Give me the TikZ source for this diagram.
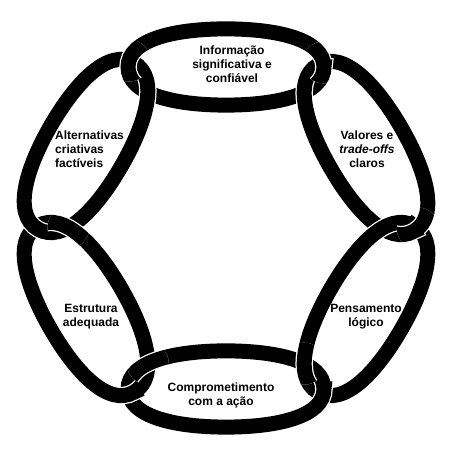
\documentclass[tikz,border=0pt]{standalone}
\usepackage{fontspec}
\setmainfont{Liberation Sans}
\usetikzlibrary{intersections}
\newcommand\chainlink{(97,0) .. controls (97,27) and (50,37) .. (0,37) .. controls (-50,37) and (-97,27) .. (-97,0) .. controls (-97,-27) and (-50,-37) .. (0,-37) .. controls (50,-37) and (97,-27) .. cycle}
\begin{document}
\begin{tikzpicture}[x=1pt,y=1pt,
  lk/.style={line width=15pt, black},
  lkw/.style={line width=17.5pt, white},
  lbl/.style={font=\fontsize{12}{14}\selectfont\bfseries, align=center, inner sep=0pt, text=black},
  pA/.style={shift={(226,382)}, rotate=0, xscale=1.01, yscale=1.03},
  pB/.style={shift={(366,301)}, rotate=-60, xscale=0.99, yscale=1.1},
  pC/.style={shift={(366,140)}, rotate=60, xscale=0.99, yscale=1.1},
  pD/.style={shift={(226,60)}, rotate=0, xscale=1.01, yscale=1.03},
  pE/.style={shift={(86,140)}, rotate=-60, xscale=0.99, yscale=1.1},
  pF/.style={shift={(86,303)}, rotate=60, xscale=0.99, yscale=1.1}]
\useasboundingbox (0,0) rectangle (451,449);
\fill[white] (0,0) rectangle (451,449);
% paths for intersections
\path[name path=A, pA] \chainlink;
\path[name path=B, pB] \chainlink;
\path[name path=C, pC] \chainlink;
\path[name path=D, pD] \chainlink;
\path[name path=E, pE] \chainlink;
\path[name path=F, pF] \chainlink;
\path[name intersections={of=A and B, by={ab1,ab2}}];
\path[name intersections={of=B and C, by={bc1,bc2}}];
\path[name intersections={of=C and D, by={cd1,cd2}}];
\path[name intersections={of=D and E, by={de1,de2}}];
\path[name intersections={of=E and F, by={ef1,ef2}}];
\path[name intersections={of=F and A, by={fa1,fa2}}];
% links
\foreach \s in {pA,pB,pC,pD,pE,pF}{
  \draw[lkw, \s] \chainlink;
  \draw[lk, \s] \chainlink;
}
% over/under fixes
\begin{scope}\clip (ab1) circle (21); \draw[lkw,pA] \chainlink; \draw[lk,pA] \chainlink; \end{scope}
\begin{scope}\clip (bc1) circle (21); \draw[lkw,pB] \chainlink; \draw[lk,pB] \chainlink; \end{scope}
\begin{scope}\clip (cd1) circle (21); \draw[lkw,pC] \chainlink; \draw[lk,pC] \chainlink; \end{scope}
\begin{scope}\clip (de1) circle (21); \draw[lkw,pD] \chainlink; \draw[lk,pD] \chainlink; \end{scope}
\begin{scope}\clip (ef1) circle (21); \draw[lkw,pE] \chainlink; \draw[lk,pE] \chainlink; \end{scope}
\begin{scope}\clip (fa1) circle (21); \draw[lkw,pA] \chainlink; \draw[lk,pA] \chainlink; \end{scope}
% labels
\node[lbl] (tinfo) at (232,385) {Informação\\significativa e\\confiável};
\node[lbl] (tval) at (367,300) {Valores e\\\textit{trade-offs}\\claros};
\node[lbl, align=left, anchor=west] (talt) at (55,300) {Alternativas\\criativas\\factíveis};
\node[lbl] (test) at (91,132) {Estrutura\\adequada};
\node[lbl] (tpen) at (366,132) {Pensamento\\lógico};
\node[lbl] (tcom) at (221,54) {Comprometimento\\com a ação};
\end{tikzpicture}
\end{document}
